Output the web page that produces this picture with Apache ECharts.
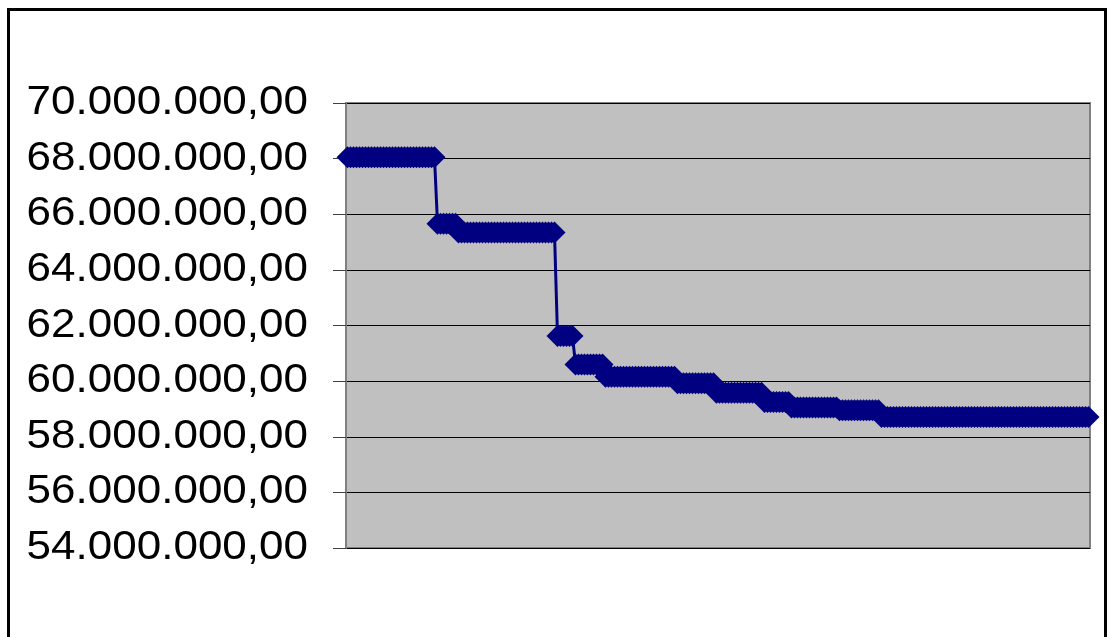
<!DOCTYPE html>
<html>
<head>
<meta charset="utf-8">
<script src="https://cdn.jsdelivr.net/npm/echarts@6/dist/echarts.min.js"></script>
<style>
  html, body { margin: 0; padding: 0; background: #ffffff; }
  #chart { width: 1110px; height: 637px; }
</style>
</head>
<body>
<div id="chart"></div>
<script>
// Y axis ticks (values shown on the left scale)
const yTickValues = [54000000, 56000000, 58000000, 60000000, 62000000, 64000000, 66000000, 68000000, 70000000];

// Series values, one per observation
const seriesValues = [
  68050000, 68050000, 68050000, 68050000, 68050000, 68050000, 68050000, 68050000, 68050000, 68050000,
  68050000, 68050000, 68050000, 68050000, 68050000, 68050000, 68050000, 68050000, 68050000, 68050000,
  68050000, 68050000, 68050000, 68050000, 68050000, 68050000, 68050000, 68050000, 68050000, 68050000,
  65660000, 65660000, 65660000, 65660000, 65660000, 65660000, 65660000, 65340000, 65340000, 65340000,
  65340000, 65340000, 65340000, 65340000, 65340000, 65340000, 65340000, 65340000, 65340000, 65340000,
  65340000, 65340000, 65340000, 65340000, 65340000, 65340000, 65340000, 65340000, 65340000, 65340000,
  65340000, 65340000, 65340000, 65340000, 65340000, 65340000, 65340000, 65340000, 65340000, 65340000,
  61620000, 61620000, 61620000, 61620000, 61620000, 61620000, 60600000, 60600000, 60600000, 60600000,
  60600000, 60600000, 60600000, 60600000, 60600000, 60600000, 60160000, 60160000, 60160000, 60160000,
  60160000, 60160000, 60160000, 60160000, 60160000, 60160000, 60160000, 60160000, 60160000, 60160000,
  60160000, 60160000, 60160000, 60160000, 60160000, 60160000, 60160000, 60160000, 60160000, 60160000,
  59920000, 59920000, 59920000, 59920000, 59920000, 59920000, 59920000, 59920000, 59920000, 59920000,
  59920000, 59920000, 59920000, 59580000, 59580000, 59580000, 59580000, 59580000, 59580000, 59580000,
  59580000, 59580000, 59580000, 59580000, 59580000, 59580000, 59580000, 59580000, 59580000, 59250000,
  59250000, 59250000, 59250000, 59250000, 59250000, 59250000, 59250000, 59250000, 59050000, 59050000,
  59050000, 59050000, 59050000, 59050000, 59050000, 59050000, 59050000, 59050000, 59050000, 59050000,
  59050000, 59050000, 59050000, 59050000, 58950000, 58950000, 58950000, 58950000, 58950000, 58950000,
  58950000, 58950000, 58950000, 58950000, 58950000, 58950000, 58950000, 58950000, 58710000, 58710000,
  58710000, 58710000, 58710000, 58710000, 58710000, 58710000, 58710000, 58710000, 58710000, 58710000,
  58710000, 58710000, 58710000, 58710000, 58710000, 58710000, 58710000, 58710000, 58710000, 58710000,
  58710000, 58710000, 58710000, 58710000, 58710000, 58710000, 58710000, 58710000, 58710000, 58710000,
  58710000, 58710000, 58710000, 58710000, 58710000, 58710000, 58710000, 58710000, 58710000, 58710000,
  58710000, 58710000, 58710000, 58710000, 58710000, 58710000, 58710000, 58710000, 58710000, 58710000,
  58710000, 58710000, 58710000, 58710000, 58710000, 58710000, 58710000, 58710000, 58710000, 58710000,
  58710000, 58710000, 58710000, 58710000, 58710000, 58710000, 58710000, 58710000
];

// German-style number: 70.000.000,00
function formatValue(v) {
  const fixed = Math.abs(v).toFixed(2).split('.');
  const intPart = fixed[0].replace(/\B(?=(\d{3})+(?!\d))/g, '.');
  return (v < 0 ? '-' : '') + intPart + ',' + fixed[1];
}

const chart = echarts.init(document.getElementById('chart'), null, { renderer: 'canvas' });

const frame = {
  type: 'rect',
  id: 'frame',
  z: -10,
  shape: { x: 8.5, y: 9.5, width: 1097, height: 700 },
  style: { fill: 'none', stroke: '#000000', lineWidth: 3 }
};

chart.setOption({
  animation: false,
  backgroundColor: '#ffffff',
  graphic: [frame],
  grid: {
    left: 346,
    right: 20,
    top: 103,
    bottom: 89,
    show: true,
    backgroundColor: '#c0c0c0',
    borderColor: '#808080',
    borderWidth: 2
  },
  xAxis: {
    type: 'category',
    boundaryGap: true,
    axisLine: { show: false },
    axisTick: { show: false },
    axisLabel: { show: false },
    splitLine: { show: false }
  },
  yAxis: {
    type: 'value',
    min: yTickValues[0],
    max: yTickValues[yTickValues.length - 1],
    interval: yTickValues[1] - yTickValues[0],
    axisLine: { show: true, lineStyle: { color: '#808080', width: 2 } },
    axisTick: { show: true, inside: false, length: 13, lineStyle: { color: '#404040', width: 1 } },
    axisLabel: { show: false },
    splitLine: { show: true, lineStyle: { color: '#000000', width: 1 } }
  },
  series: [
    {
      type: 'line',
      data: seriesValues,
      showAllSymbol: true,
      symbol: 'diamond',
      symbolSize: [22, 22],
      itemStyle: { color: '#000080' },
      lineStyle: { color: '#000080', width: 3 }
    }
  ]
});

// Value labels on the left scale, slightly widened type, placed at each tick via the axis scale
const labelRight = 308;
const labelGraphics = yTickValues.map(function (v, i) {
  const py = chart.convertToPixel({ yAxisIndex: 0 }, v);
  return {
    type: 'text',
    id: 'ylabel' + i,
    x: labelRight,
    y: py,
    scaleX: 1.1,
    style: {
      text: formatValue(v),
      align: 'right',
      verticalAlign: 'middle',
      fill: '#000000',
      font: '40px "Liberation Sans", Arial, sans-serif'
    }
  };
});

chart.setOption({ graphic: [frame].concat(labelGraphics) });
</script>
</body>
</html>
